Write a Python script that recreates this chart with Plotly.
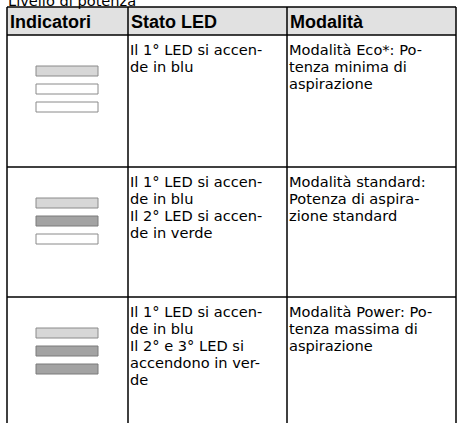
import plotly.graph_objects as go

# ---- data ----
title_text = "Livello di potenza"
headers = ["Indicatori", "Stato LED", "Modalità"]
# LED states per row: 0 = off, 1 = on (blue), 2 = on (green)
led_states = [[1, 0, 0], [1, 2, 0], [1, 2, 2]]
stato_lines = [
    ["Il 1° LED si accen-", "de in blu"],
    ["Il 1° LED si accen-", "de in blu", "Il 2° LED si accen-", "de in verde"],
    ["Il 1° LED si accen-", "de in blu", "Il 2° e 3° LED si", "accendono in ver-", "de"],
]
modalita_lines = [
    ["Modalità Eco*: Po-", "tenza minima di", "aspirazione"],
    ["Modalità standard:", "Potenza di aspira-", "zione standard"],
    ["Modalità Power: Po-", "tenza massima di", "aspirazione"],
]

# ---- layout geometry (pixel-like units) ----
W, H = 457, 423
col_x = [7, 128, 287, 456]
header_top, header_bot = 7, 35
row_bounds = [35, 167, 297, 440]
FONT = "DejaVu Sans, Liberation Sans, sans-serif"
FS = 14.6
HFS = 18
LINE = 17

fig = go.Figure()
shapes = []
annotations = []

# header fill
shapes.append(dict(type="rect", x0=col_x[0], x1=col_x[-1], y0=header_top, y1=header_bot,
                   fillcolor="#e1e1e1", line=dict(width=0), layer="below"))
# horizontal lines
for y in [header_top, header_bot] + row_bounds[1:-1]:
    shapes.append(dict(type="line", x0=col_x[0], x1=col_x[-1], y0=y, y1=y,
                       line=dict(color="black", width=1.5)))
# vertical lines
for x in col_x:
    shapes.append(dict(type="line", x0=x, x1=x, y0=header_top, y1=row_bounds[-1],
                       line=dict(color="black", width=1.5)))

# title (cut at top of the picture) – paper y so it is not hidden outside the axis range
annotations.append(dict(x=7, xref="x", y=1.0, yref="paper", text=title_text, showarrow=False,
                        xanchor="left", yanchor="middle", borderpad=0,
                        font=dict(family=FONT, size=FS, color="black")))

# headers
for i, h in enumerate(headers):
    annotations.append(dict(x=col_x[i] + 1.5, y=(header_top + header_bot) / 2 + 0.5, text="<b>%s</b>" % h,
                            showarrow=False, xanchor="left", yanchor="middle", borderpad=0,
                            font=dict(family="Liberation Sans, Arial, sans-serif", size=HFS, color="black")))

led_fill = {0: "#ffffff", 1: "#d7d7d7", 2: "#a3a3a3"}
led_line = {0: "#8a8a8a", 1: "#8a8a8a", 2: "#7a7a7a"}

for r in range(3):
    top = row_bounds[r]
    # LEDs
    for k, st in enumerate(led_states[r]):
        y0 = top + 31 + 18 * k
        shapes.append(dict(type="rect", x0=36, x1=98, y0=y0, y1=y0 + 10,
                           fillcolor=led_fill[st], line=dict(color=led_line[st], width=1)))
    for j, t in enumerate(stato_lines[r]):
        annotations.append(dict(x=col_x[1] + 1, y=top + 14 + LINE * j, text=t, showarrow=False,
                                xanchor="left", yanchor="middle", borderpad=0,
                                font=dict(family=FONT, size=FS, color="black")))
    for j, t in enumerate(modalita_lines[r]):
        annotations.append(dict(x=col_x[2] + 1, y=top + 14 + LINE * j, text=t, showarrow=False,
                                xanchor="left", yanchor="middle", borderpad=0,
                                font=dict(family=FONT, size=FS, color="black")))

fig.update_layout(
    width=W, height=H, margin=dict(l=0, r=0, t=0, b=0),
    paper_bgcolor="white", plot_bgcolor="white",
    xaxis=dict(range=[0, W], visible=False, fixedrange=True),
    yaxis=dict(range=[H, 0], visible=False, fixedrange=True),
    shapes=shapes, annotations=annotations, showlegend=False,
)
fig.write_html("out.html", config={"displayModeBar": False},
               post_script="document.body.style.margin='0px';document.body.style.overflow='hidden';")
